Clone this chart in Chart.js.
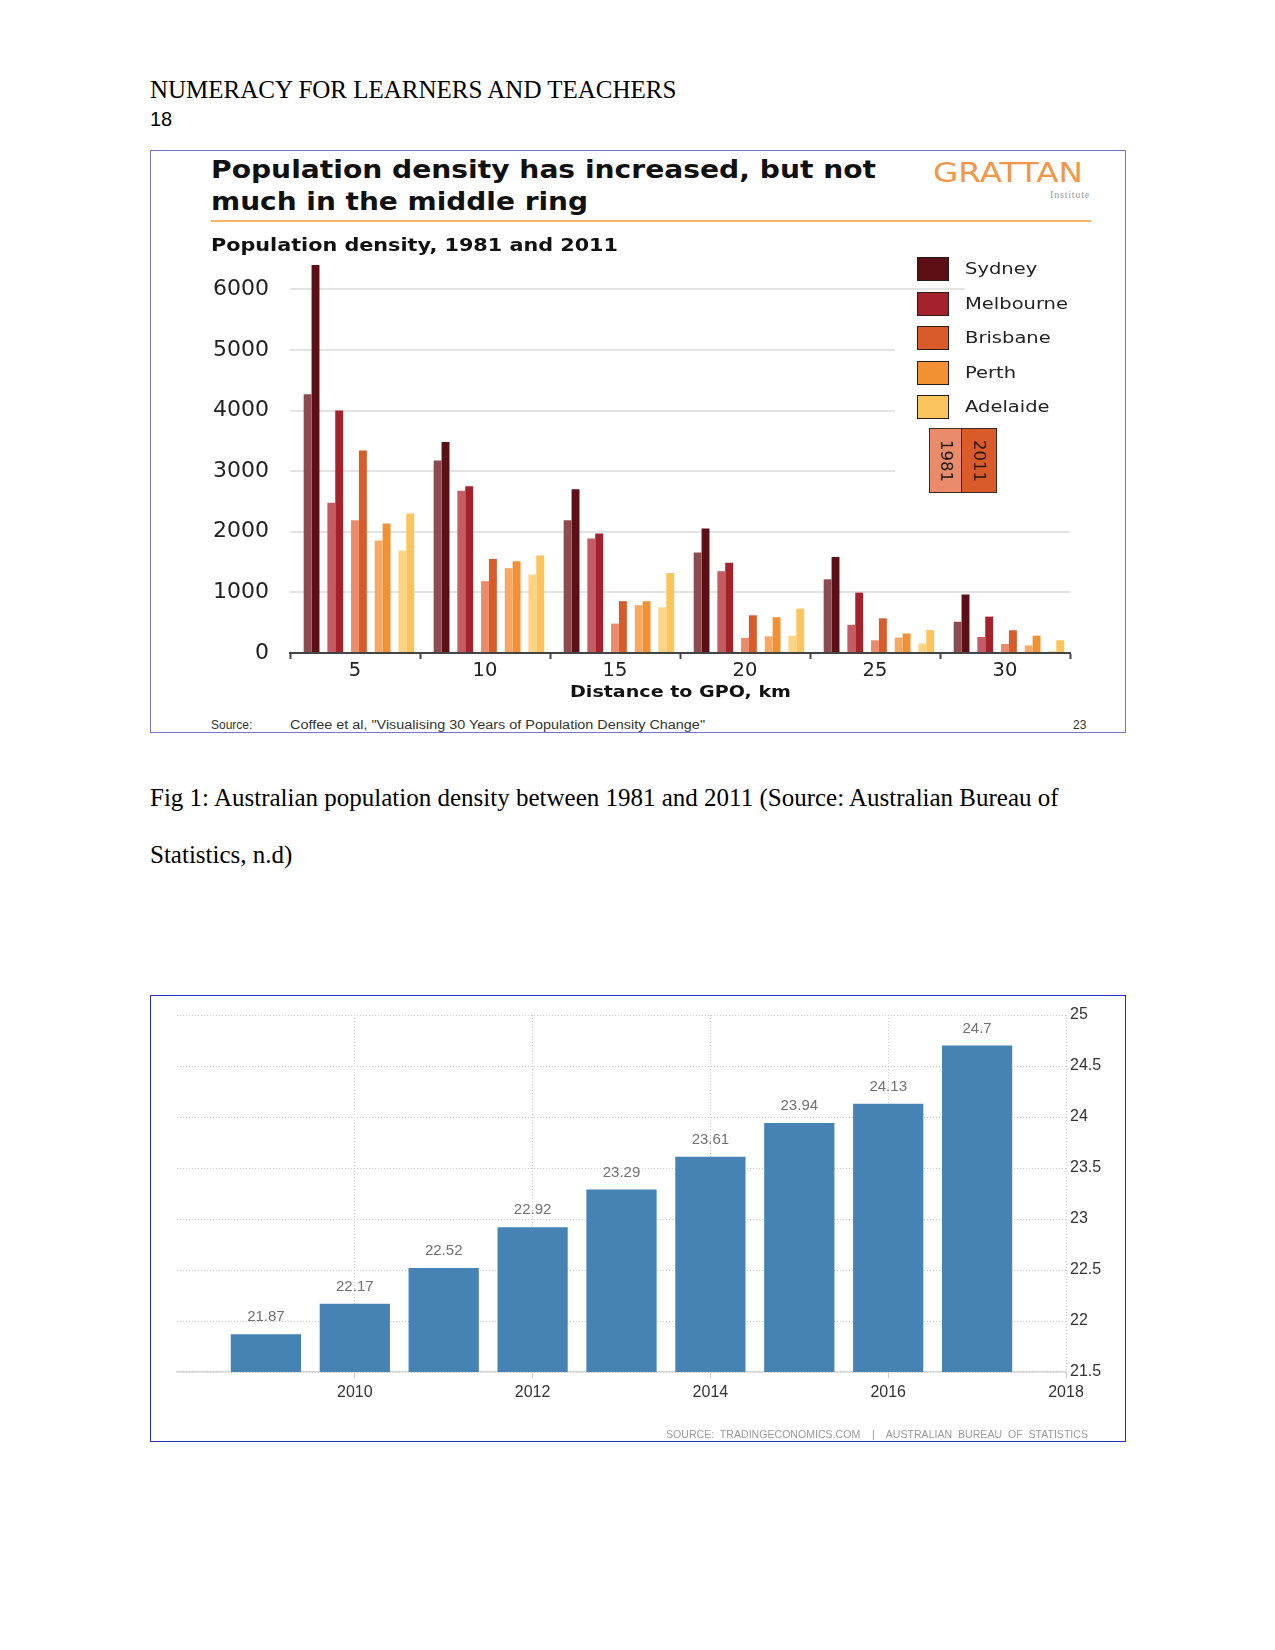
<!DOCTYPE html>
<html>
<head>
<meta charset="utf-8">
<script src="https://cdn.jsdelivr.net/npm/chart.js@4.4.1/dist/chart.umd.min.js"></script>
<style>
html,body{margin:0;padding:0;background:#fff;}
body{width:1275px;height:1650px;position:relative;overflow:hidden;}
.t{position:absolute;white-space:nowrap;line-height:1;}
.serif{font-family:"Liberation Serif","Times New Roman",serif;color:#000;font-size:25px;}
.dv{font-family:"DejaVu Sans",sans-serif;}
.frame{position:absolute;box-sizing:border-box;background:transparent;pointer-events:none;}
.cover{position:absolute;background:#fff;}
.sw{position:absolute;box-sizing:border-box;width:32px;height:24px;border:1.5px solid #2b1a1a;}
canvas{position:absolute;}
</style>
</head>
<body>
<div class="t serif" style="left:150px;top:77px;">NUMERACY FOR LEARNERS AND TEACHERS</div>
<div class="t" style="left:150px;top:109px;font-family:'Liberation Sans',Arial,sans-serif;font-size:20px;">18</div>

<!-- Top chart -->
<canvas id="c1" width="975" height="475" style="left:150px;top:242px;width:975px;height:475px;"></canvas>
<div class="t dv" id="title1" style="left:211px;top:158.3px;font-size:24px;font-weight:bold;color:#111;">Population density has increased, but not</div>
<div class="t dv" id="title2" style="left:211px;top:190px;font-size:24px;font-weight:bold;color:#111;">much in the middle ring</div>
<div style="position:absolute;left:211px;top:219.5px;width:880px;height:2.5px;background:#f4b564;"></div>
<div class="t dv" id="grattan" style="left:933px;top:160px;font-size:26px;font-weight:normal;color:#f2964a;">GRATTAN</div>
<div class="t" id="inst" style="left:1032px;top:190px;font-family:'Liberation Serif',serif;font-size:10px;color:#9a9a9a;letter-spacing:0.8px;">Institute</div>
<div class="t dv" id="subtitle" style="left:211px;top:235.5px;font-size:18px;font-weight:bold;color:#111;">Population density, 1981 and 2011</div>
<div class="t dv" id="xtitle" style="left:570px;top:684px;font-size:16.5px;font-weight:bold;color:#111;">Distance to GPO, km</div>
<div class="t" id="srcLabel" style="left:211px;top:719px;font-family:'Liberation Sans',Arial,sans-serif;font-size:12px;color:#333;">Source:</div>
<div class="t" id="srcText" style="left:290px;top:719px;font-family:'Liberation Sans',Arial,sans-serif;font-size:12px;color:#333;">Coffee et al, "Visualising 30 Years of Population Density Change"</div>
<div class="t" id="pageNo" style="left:1073px;top:719px;font-family:'Liberation Sans',Arial,sans-serif;font-size:12px;color:#333;">23</div>

<div class="cover" style="left:895px;top:300px;width:180px;height:200px;"></div>
<div class="cover" style="left:965px;top:276px;width:110px;height:24px;"></div>
<div id="legend"></div>
<div style="position:absolute;left:929px;top:428px;width:68px;height:65px;box-sizing:border-box;border:1.5px solid #3a2a22;display:flex;">
  <div id="yr1" class="dv" style="width:31px;height:100%;background:#ea8c6c;border-right:1.5px solid #3a2a22;display:flex;align-items:center;justify-content:center;writing-mode:vertical-rl;font-size:16.5px;color:#2a1a14;line-height:1;"></div>
  <div id="yr2" class="dv" style="flex:1;height:100%;background:#d95b2a;display:flex;align-items:center;justify-content:center;writing-mode:vertical-rl;font-size:16.5px;color:#2a1a14;line-height:1;"></div>
</div>
<div class="frame" style="left:149.5px;top:149.5px;width:976px;height:583px;border:1.5px solid #7474d6;"></div>

<div class="t serif" style="left:150px;top:785px;">Fig 1: Australian population density between 1981 and 2011 (Source: Australian Bureau of</div>
<div class="t serif" style="left:150px;top:842px;">Statistics, n.d)</div>

<!-- Bottom chart -->
<canvas id="c2" width="975" height="446" style="left:150px;top:995px;width:975px;height:446px;"></canvas>
<div class="t" id="src2" style="left:666px;top:1429px;font-family:'Liberation Sans',Arial,sans-serif;font-size:11px;color:#9a9a9a;word-spacing:3px;">SOURCE: TRADINGECONOMICS.COM &nbsp;|&nbsp; AUSTRALIAN BUREAU OF STATISTICS</div>
<div class="frame" style="left:149.5px;top:995px;width:976px;height:446.5px;border:1.5px solid #2a2acb;"></div>

<script>
// ---------- Top chart data ----------
const distanceLabels = ['5', '10', '15', '20', '25', '30'];
const cities = ['Sydney', 'Melbourne', 'Brisbane', 'Perth', 'Adelaide'];
const yearLabels = ['1981', '2011'];
const sydney1981    = [4270, 3175, 2190, 1660, 1215, 515];
const sydney2011    = [6400, 3480, 2700, 2055, 1585, 965];
const melbourne1981 = [2480, 2675, 1890, 1350, 465, 265];
const melbourne2011 = [4000, 2750, 1970, 1490, 995, 600];
const brisbane1981  = [2190, 1185, 485, 250, 210, 150];
const brisbane2011  = [3340, 1550, 855, 622, 572, 375];
const perth1981     = [1855, 1400, 790, 275, 255, 125];
const perth2011     = [2135, 1515, 855, 590, 322, 286];
const adelaide1981  = [1690, 1295, 755, 285, 155, 30];
const adelaide2011  = [2300, 1610, 1320, 732, 380, 210];
const yTicksTop = [0, 1000, 2000, 3000, 4000, 5000, 6000];

// ---------- Bottom chart data ----------
const years = [2009, 2010, 2011, 2012, 2013, 2014, 2015, 2016, 2017];
const density = [21.87, 22.17, 22.52, 22.92, 23.29, 23.61, 23.94, 24.13, 24.7];
const yearTicks = [2010, 2012, 2014, 2016, 2018];
const yTicksBottom = [21.5, 22, 22.5, 23, 23.5, 24, 24.5, 25];

// colours
const cityColors = {
  Sydney:    ['#8a4b51', '#5c1016'],
  Melbourne: ['#c55c64', '#a3222c'],
  Brisbane:  ['#ea8c6c', '#d95b2a'],
  Perth:     ['#f7a964', '#f39034'],
  Adelaide:  ['#fdd484', '#fcc45c']
};
const cityData = {
  Sydney: [sydney1981, sydney2011],
  Melbourne: [melbourne1981, melbourne2011],
  Brisbane: [brisbane1981, brisbane2011],
  Perth: [perth1981, perth2011],
  Adelaide: [adelaide1981, adelaide2011]
};

// legend
const legend = document.getElementById('legend');
const swTops = [257, 292, 326, 361, 395];
const legTexts = [];
cities.forEach((c, i) => {
  const sw = document.createElement('div');
  sw.className = 'sw';
  sw.style.left = '917px';
  sw.style.top = swTops[i] + 'px';
  sw.style.background = cityColors[c][1];
  legend.appendChild(sw);
  const tx = document.createElement('div');
  tx.className = 't dv';
  tx.style.left = '965px';
  tx.style.top = (swTops[i] + 4) + 'px';
  tx.style.fontSize = '16.5px';
  tx.style.color = '#222';
  tx.textContent = c;
  legend.appendChild(tx);
  legTexts.push(tx);
});
document.getElementById('yr1').textContent = yearLabels[0];
document.getElementById('yr2').textContent = yearLabels[1];

function fit(el, w) {
  const r = el.getBoundingClientRect().width;
  const s = w / r;
  el.style.transformOrigin = '0 0';
  el.style.transform = 'scaleX(' + s + ')';
  return s;
}
fit(document.getElementById('title1'), 665);
fit(document.getElementById('title2'), 377);
fit(document.getElementById('subtitle'), 407);
fit(document.getElementById('xtitle'), 221);
fit(document.getElementById('grattan'), 150);
fit(document.getElementById('srcText'), 415);
fit(document.getElementById('src2'), 422);
const legScale = 103 / legTexts[1].getBoundingClientRect().width;
legTexts.forEach(t => { t.style.transformOrigin = '0 0'; t.style.transform = 'scaleX(' + legScale + ')'; });
{
  const inst = document.getElementById('inst');
  const w = inst.getBoundingClientRect().width;
  inst.style.left = (1090 - w) + 'px';
}

// ---------- Top chart ----------
const topDatasets = [];
cities.forEach(c => {
  topDatasets.push({ label: '', data: [], backgroundColor: 'rgba(0,0,0,0)' }); // spacing slot between city pairs
  yearLabels.forEach((y, k) => {
    topDatasets.push({
      label: c + ' ' + y,
      data: cityData[c][k],
      backgroundColor: cityColors[c][k]
    });
  });
});

new Chart(document.getElementById('c1'), {
  type: 'bar',
  data: { labels: distanceLabels, datasets: topDatasets },
  options: {
    responsive: false,
    animation: false,
    devicePixelRatio: 1,
    layout: { padding: { top: 17, right: 55, left: 0, bottom: 0 } },
    plugins: { legend: { display: false }, tooltip: { enabled: false } },
    datasets: { bar: { categoryPercentage: 0.911, barPercentage: 1.0, borderWidth: 0 } },
    scales: {
      x: {
        type: 'category',
        offset: true,
        grid: { offset: true, drawOnChartArea: false, drawTicks: true, tickLength: 6, tickColor: '#444', tickWidth: 2 },
        border: { display: true, color: '#444', width: 2 },
        ticks: { font: { family: 'DejaVu Sans', size: 19.5 }, color: '#222', padding: 0, maxRotation: 0 },
        afterFit: s => { s.height = 64; }
      },
      y: {
        min: 0,
        max: 6500,
        afterBuildTicks: s => { s.ticks = yTicksTop.map(v => ({ value: v })); },
        ticks: { font: { family: 'DejaVu Sans', size: 22 }, color: '#222', padding: 0, callback: v => String(v) },
        grid: {
          drawTicks: true,
          tickLength: 21,
          tickColor: 'rgba(0,0,0,0)',
          lineWidth: 2,
          color: c => (c.tick && c.tick.value > 0) ? '#e3e3e3' : 'rgba(0,0,0,0)'
        },
        border: { display: false },
        afterFit: s => { s.width = 140; }
      }
    }
  }
});

// ---------- Bottom chart ----------
const valueLabels = {
  id: 'valueLabels',
  afterDatasetsDraw(chart) {
    const ctx = chart.ctx;
    const meta = chart.getDatasetMeta(0);
    ctx.save();
    ctx.font = '15px "Liberation Sans", Arial, sans-serif';
    ctx.fillStyle = '#707070';
    ctx.textAlign = 'center';
    ctx.textBaseline = 'middle';
    meta.data.forEach((bar, i) => {
      ctx.fillText(String(density[i]), bar.x, bar.y - 17);
    });
    ctx.restore();
  }
};

const gridCol = c => (c.tick && c.tick.value === 2008) ? 'rgba(0,0,0,0)' : '#c9c9c9';
new Chart(document.getElementById('c2'), {
  type: 'bar',
  data: {
    datasets: [{
      data: years.map((y, i) => ({ x: y, y: density[i] })),
      backgroundColor: '#4682b4',
      borderWidth: 0,
      categoryPercentage: 1,
      barPercentage: 0.79
    }]
  },
  options: {
    responsive: false,
    animation: false,
    devicePixelRatio: 1,
    layout: { padding: { left: 27, top: 20, right: 0, bottom: 0 } },
    plugins: { legend: { display: false }, tooltip: { enabled: false } },
    scales: {
      x: {
        type: 'linear',
        min: 2008,
        max: 2018,
        offset: false,
        afterBuildTicks: s => { s.ticks = [2008].concat(yearTicks).map(v => ({ value: v })); },
        ticks: {
          callback: v => (yearTicks.indexOf(v) >= 0 ? String(v) : ''),
          font: { family: 'Liberation Sans', size: 16 },
          color: '#333',
          padding: 5,
          maxRotation: 0,
          autoSkip: false
        },
        grid: { offset: false, color: gridCol, tickColor: gridCol, lineWidth: 1, drawTicks: true, tickLength: 6 },
        border: { display: true, color: '#d6d6d6', width: 1.5, dash: [1, 2] },
        afterFit: s => { s.height = 69; }
      },
      y: {
        position: 'right',
        min: 21.5,
        max: 25,
        afterBuildTicks: s => { s.ticks = yTicksBottom.map(v => ({ value: v })); },
        ticks: { font: { family: 'Liberation Sans', size: 16 }, color: '#333', padding: 4, callback: v => String(v) },
        grid: { drawTicks: false, color: '#c9c9c9', lineWidth: 1 },
        border: { display: false, dash: [1, 2] },
        afterFit: s => { s.width = 59; }
      }
    }
  },
  plugins: [valueLabels]
});
</script>
</body>
</html>
